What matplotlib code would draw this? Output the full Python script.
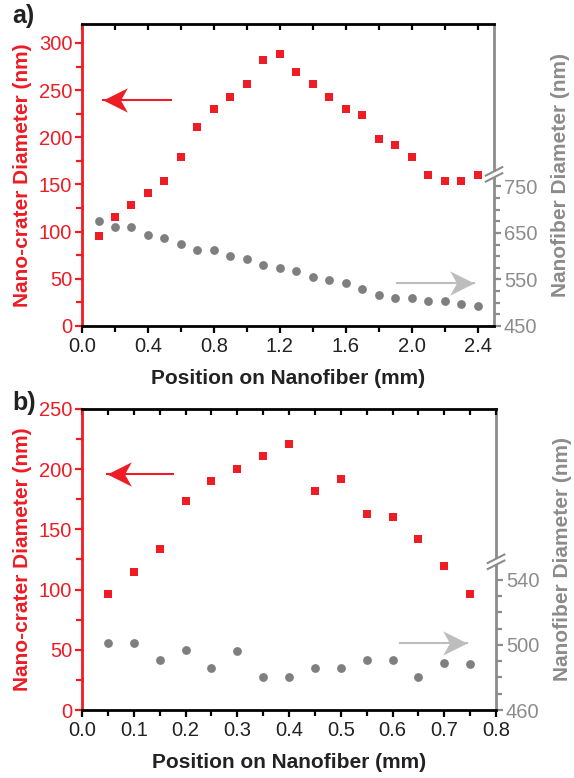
import numpy as np
import matplotlib.pyplot as plt
from matplotlib.ticker import MultipleLocator, FixedLocator
from matplotlib.path import Path

plt.rcParams['font.family'] = ['Liberation Sans', 'DejaVu Sans']

RED = '#ee1c24'
GRAY = '#7f7f7f'
LGRAY = '#bdbdbd'
SPINE_GRAY = '#8c8c8c'

# panel a data
pos_a = [0.1, 0.2, 0.3, 0.4, 0.5, 0.6, 0.7, 0.8, 0.9, 1.0, 1.1, 1.2,
         1.3, 1.4, 1.5, 1.6, 1.7, 1.8, 1.9, 2.0, 2.1, 2.2, 2.3, 2.4]
crater_a = [95, 115, 128, 141, 154, 179, 211, 230, 243, 256, 282, 288,
            269, 256, 243, 230, 224, 198, 192, 179, 160, 154, 154, 160]
fiber_a = [676, 663, 663, 645, 639, 626, 613, 613, 601, 594, 582, 575,
           568, 556, 549, 543, 530, 517, 511, 511, 504, 504, 498, 493]

# panel b data
pos_b = [0.05, 0.1, 0.15, 0.2, 0.25, 0.3, 0.35, 0.4,
         0.45, 0.5, 0.55, 0.6, 0.65, 0.7, 0.75]
crater_b = [96, 115, 134, 174, 190, 200, 211, 221,
            182, 192, 163, 160, 142, 120, 96]
fiber_b = [501, 501, 491, 497, 486, 496, 480, 480,
           486, 486, 491, 491, 480, 489, 488]

# notched arrow head, tip at the origin
HEAD_L = Path([(0, 0), (1, 0.5), (0.72, 0), (1, -0.5), (0, 0)],
              [Path.MOVETO, Path.LINETO, Path.LINETO, Path.LINETO,
               Path.CLOSEPOLY])
HEAD_R = Path([(0, 0), (-1, 0.5), (-0.72, 0), (-1, -0.5), (0, 0)],
              [Path.MOVETO, Path.LINETO, Path.LINETO, Path.LINETO,
               Path.CLOSEPOLY])


def arrow(ax, x0, x1, y, color, head):
    # line from x0 to x1, head at x1
    ax.plot([x0, x1], [y, y], color=color, lw=1.5, zorder=4)
    ax.plot([x1], [y], marker=head, markersize=35, color=color,
            markeredgewidth=0, zorder=4)


def panel(rect, x, yl, yr, xlim, xmaj, xmin, ylim, rlim, rmaj, rmin,
          brk, redarrow, grayarrow, letter, lety):
    ax = fig.add_axes(rect)
    ax2 = ax.twinx()
    ax.set_zorder(ax2.get_zorder() + 1)
    ax.patch.set_visible(False)

    ax2.scatter(x, yr, s=40, color=GRAY, marker='o', linewidths=0, zorder=3)
    ax.scatter(x, yl, s=32, color=RED, marker='s', linewidths=0, zorder=3)

    arrow(ax, redarrow[1], redarrow[0], redarrow[2], RED, HEAD_L)
    arrow(ax, grayarrow[0], grayarrow[1], grayarrow[2], LGRAY, HEAD_R)

    ax.set_xlim(*xlim)
    ax.set_ylim(*ylim)
    ax2.set_ylim(*rlim)

    ax.xaxis.set_major_locator(MultipleLocator(xmaj))
    ax.xaxis.set_minor_locator(MultipleLocator(xmin))
    ax.yaxis.set_major_locator(MultipleLocator(50))
    ax.yaxis.set_minor_locator(MultipleLocator(25))
    ax.xaxis.set_major_formatter(plt.FuncFormatter(lambda v, p: f'{v:.1f}'))

    ax2.yaxis.set_major_locator(FixedLocator(rmaj))
    ax2.yaxis.set_minor_locator(FixedLocator(rmin))

    for s in ['top', 'bottom']:
        ax.spines[s].set_color('black')
        ax.spines[s].set_linewidth(2)
    ax.spines['left'].set_color(RED)
    ax.spines['left'].set_linewidth(2)
    ax.spines['right'].set_visible(False)
    for s in ['top', 'bottom', 'left']:
        ax2.spines[s].set_visible(False)
    ax2.spines['right'].set_color(SPINE_GRAY)
    ax2.spines['right'].set_linewidth(2)

    ax.tick_params(axis='x', which='both', direction='out', width=1.6,
                   colors='black', labelsize=14.5, pad=3)
    ax.tick_params(axis='x', which='major', length=5)
    ax.tick_params(axis='x', which='minor', length=4)
    ax.tick_params(axis='y', which='both', direction='out', width=1.6,
                   colors=RED, labelsize=14.5, pad=2)
    ax.tick_params(axis='y', which='major', length=5)
    ax.tick_params(axis='y', which='minor', length=4)
    ax.tick_params(axis='x', labelcolor='#222222')
    ax2.tick_params(axis='y', which='both', direction='out', width=1.6,
                    colors=SPINE_GRAY, labelsize=14.5, pad=2)
    ax2.tick_params(axis='y', which='major', length=5)
    ax2.tick_params(axis='y', which='minor', length=4)

    top = ax.secondary_xaxis('top')
    top.xaxis.set_major_locator(MultipleLocator(xmin))
    top.tick_params(direction='in', length=4, width=1.6, labeltop=False)
    top.spines['top'].set_visible(False)

    ax.set_xlabel('Position on Nanofiber (mm)', fontsize=15,
                  fontweight='bold', color='#222222', labelpad=9)
    ax.set_ylabel('Nano-crater Diameter (nm)', fontsize=15,
                  fontweight='bold', color=RED, labelpad=5)
    ax2.set_ylabel('Nanofiber Diameter (nm)', fontsize=15,
                   fontweight='bold', color=SPINE_GRAY, labelpad=10)

    # axis break on right spine
    yb = (rmaj[-1] - rlim[0]) / (rlim[1] - rlim[0]) + brk
    ax2.plot([1, 1], [yb - 0.009, yb + 0.009], transform=ax2.transAxes,
             color='white', lw=3, clip_on=False, zorder=5,
             solid_capstyle='butt')
    for dy in (-0.01, 0.01):
        ax2.plot([0.98, 1.02], [yb + dy - 0.014, yb + dy + 0.014],
                 transform=ax2.transAxes, color=SPINE_GRAY, lw=1.5,
                 clip_on=False, zorder=6)

    fig.text(0.022, lety, letter, fontsize=18, fontweight='bold',
             color='#222222', va='center')
    return ax


fig = plt.figure(figsize=(5.74, 7.78), dpi=100)

panel([0.1429, 0.581, 0.7178, 0.388], pos_a, crater_a, fiber_a,
      (0, 2.5), 0.4, 0.2, (0, 320), (450, 1099),
      [450, 550, 650, 750], [475, 500, 525, 575, 600, 625, 675, 700, 725],
      0.04, (0.127, 0.54, 240), (1.91, 2.38, 46),
      'a)', 1 - 16 / 778)

panel([0.1429, 0.0874, 0.7213, 0.3869], pos_b, crater_b, fiber_b,
      (0, 0.8), 0.1, 0.05, (0, 250), (460, 645),
      [460, 500, 540], [470, 480, 490, 510, 520, 530],
      0.06, (0.048, 0.176, 196), (0.615, 0.744, 56),
      'b)', 1 - 403 / 778)

fig.savefig('out.png', dpi=100)
